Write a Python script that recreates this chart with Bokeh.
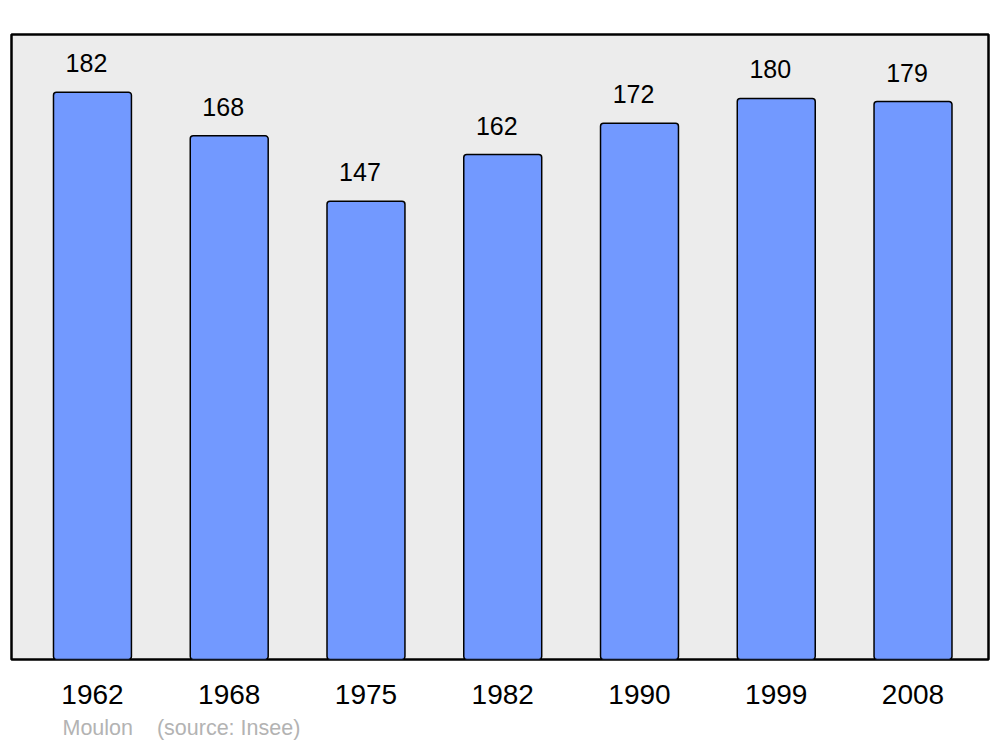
from bokeh.plotting import figure
from bokeh.models import FixedTicker, Title, ColumnDataSource, Range1d
from bokeh.core.properties import value
from bokeh.embed import file_html
from bokeh.resources import INLINE

years = ["1962", "1968", "1975", "1982", "1990", "1999", "2008"]
population = [182, 168, 147, 162, 172, 180, 179]
commune = "Moulon"
source_note = "(source: Insee)"

xs = list(range(len(years)))
src = ColumnDataSource(dict(x=xs, top=population, label=[str(v) for v in population]))

FONT = "Liberation Sans"

p = figure(width=996, height=747, output_backend="svg", toolbar_location=None,
           x_range=Range1d(-0.592, 6.552), y_range=Range1d(0, 200.5),
           y_axis_location=None, min_border_left=11, min_border_right=8,
           min_border_top=34, min_border_bottom=85)
p.background_fill_color = "#ececec"
p.border_fill_color = "white"
p.outline_line_color = "black"
p.outline_line_width = 2.5
p.xgrid.visible = False
p.ygrid.visible = False

p.vbar(x="x", top="top", bottom=0, width=0.570, source=src,
       fill_color="#7299ff", line_color="black", line_width=1.5, border_radius=3)

p.text(x="x", y="top", text="label", source=src, text_font=value(FONT),
       text_font_size="25px", text_color="black", text_align="center",
       text_baseline="alphabetic", x_offset=-6, y_offset=-29)

ax = p.xaxis[0]
ax.ticker = FixedTicker(ticks=xs)
ax.major_label_overrides = {i: y for i, y in enumerate(years)}
ax.axis_line_color = None
ax.major_tick_line_color = None
ax.minor_tick_line_color = None
ax.major_tick_out = 0
ax.major_label_standoff = 25
ax.major_label_text_font = FONT
ax.major_label_text_font_size = "28px"
ax.major_label_text_color = "black"

footer = Title(text=commune + "\u00a0\u00a0\u00a0\u00a0" + source_note, align="left",
               offset=51, text_font=FONT, text_font_size="21.5px",
               text_color="#b3b3b3", text_font_style="normal", standoff=15)
p.add_layout(footer, "below")

open("out.html", "w").write(file_html(p, INLINE))
